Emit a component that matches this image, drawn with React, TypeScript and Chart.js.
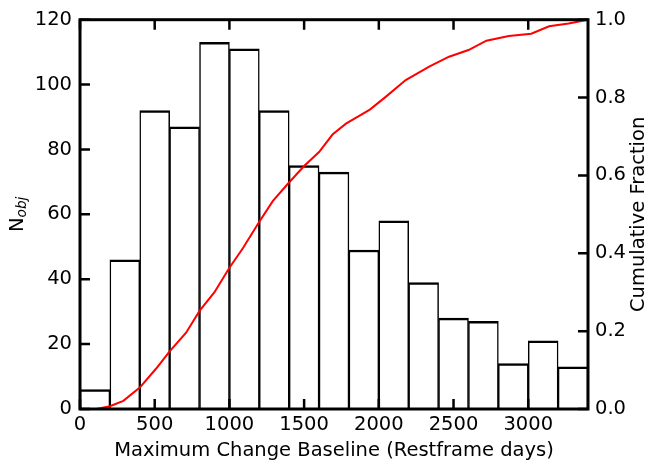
import React, { useEffect, useRef } from 'react';
import { Chart, registerables } from 'chart.js';

Chart.register(...registerables);

// Histogram of maximum change baselines, 200-day bins
const binCenters = [100, 300, 500, 700, 900, 1100, 1300, 1500, 1700, 1900, 2100, 2300, 2500, 2700, 2900, 3100, 3300];
const counts = [6, 46, 92, 87, 113, 111, 92, 75, 73, 49, 58, 39, 28, 27, 14, 21, 13];

// Cumulative fraction of objects versus baseline
const cumDays = [110, 200, 290, 400, 510, 600, 710, 800, 900, 1000, 1090, 1200, 1290, 1390, 1500, 1600, 1690, 1780, 1940, 2050, 2180, 2340, 2470, 2600, 2720, 2870, 3020, 3140, 3270, 3400];
const cumFraction = [0, 0.007, 0.021, 0.055, 0.104, 0.148, 0.196, 0.252, 0.3, 0.363, 0.413, 0.481, 0.534, 0.578, 0.624, 0.66, 0.705, 0.733, 0.769, 0.803, 0.845, 0.88, 0.905, 0.922, 0.946, 0.958, 0.964, 0.983, 0.99, 1.0];

// Axis tick labels
const dayLabels = [0, 500, 1000, 1500, 2000, 2500, 3000];
const countLabels = [0, 20, 40, 60, 80, 100, 120];
const fractionLabels = [0, 0.2, 0.4, 0.6, 0.8, 1.0];

const FONT = 'DejaVu Sans';
const FS = 19.5;

// Frame, inward tick marks and the two vertical axis titles
const framePlugin = {
  id: 'frame',
  afterDatasetsDraw(chart: any) {
    const { ctx, chartArea: a, scales } = chart;
    const L = 10;
    ctx.save();
    ctx.strokeStyle = '#000';
    ctx.lineWidth = 2.5;
    ctx.beginPath();
    for (const v of dayLabels) {
      const px = scales.x.getPixelForValue(v);
      ctx.moveTo(px, a.bottom);
      ctx.lineTo(px, a.bottom - L);
      ctx.moveTo(px, a.top);
      ctx.lineTo(px, a.top + L);
    }
    for (const v of countLabels) {
      const py = scales.y.getPixelForValue(v);
      ctx.moveTo(a.left, py);
      ctx.lineTo(a.left + L, py);
    }
    for (const v of fractionLabels) {
      const py = scales.y1.getPixelForValue(v);
      ctx.moveTo(a.right, py);
      ctx.lineTo(a.right - L, py);
    }
    ctx.stroke();
    ctx.lineWidth = 3;
    ctx.strokeRect(a.left, a.top, a.right - a.left, a.bottom - a.top);
    ctx.restore();
  },
  afterDraw(chart: any) {
    const { ctx, chartArea: a } = chart;
    const cy = (a.top + a.bottom) / 2;
    ctx.save();
    ctx.fillStyle = '#000';
    ctx.textBaseline = 'alphabetic';

    // Left title: N with italic subscript "obj"
    ctx.save();
    ctx.translate(22.7, cy);
    ctx.rotate(-Math.PI / 2);
    ctx.font = `${FS}px "${FONT}"`;
    const nW = ctx.measureText('N').width;
    ctx.font = `italic ${FS * 0.7}px "${FONT}"`;
    const subW = ctx.measureText('obj').width;
    const total = nW + subW;
    ctx.font = `${FS}px "${FONT}"`;
    ctx.textAlign = 'left';
    ctx.fillText('N', -total / 2, 0);
    ctx.font = `italic ${FS * 0.7}px "${FONT}"`;
    ctx.fillText('obj', -total / 2 + nW, 3);
    ctx.restore();

    // Right title
    ctx.save();
    ctx.translate(644, cy);
    ctx.rotate(-Math.PI / 2);
    ctx.font = `${FS}px "${FONT}"`;
    ctx.textAlign = 'center';
    ctx.fillText('Cumulative Fraction', 0, 0);
    ctx.restore();

    ctx.restore();
  },
};

const fixedTicks = (values: number[]) => (s: any) => {
  s.ticks = values.map((v) => ({ value: v }));
};

export default function App() {
  const canvasRef = useRef<HTMLCanvasElement | null>(null);

  useEffect(() => {
    if (!canvasRef.current) return;
    const tickFont = { family: FONT, size: FS };
    const chart = new Chart(canvasRef.current, {
      type: 'bar',
      data: {
        datasets: [
          {
            type: 'line',
            data: cumDays.map((d, i) => ({ x: d, y: cumFraction[i] })),
            yAxisID: 'y1',
            borderColor: '#ff0000',
            borderWidth: 2,
            pointRadius: 0,
            fill: false,
            tension: 0,
            order: 0,
          },
          {
            type: 'bar',
            data: binCenters.map((c, i) => ({ x: c, y: counts[i] })),
            yAxisID: 'y',
            backgroundColor: '#ffffff',
            borderColor: '#000000',
            borderWidth: { top: 2.5, left: 1.5, right: 1.5, bottom: 0 },
            borderSkipped: false,
            barPercentage: 1,
            categoryPercentage: 1,
            grouped: false,
            order: 1,
          },
        ] as any,
      },
      options: {
        responsive: false,
        animation: false,
        layout: { padding: { top: 16, left: 0, right: 0, bottom: 0 } },
        plugins: { legend: { display: false }, tooltip: { enabled: false } },
        scales: {
          x: {
            type: 'linear',
            min: 0,
            max: 3400,
            offset: false,
            grid: { display: false, drawTicks: false },
            border: { display: false },
            afterBuildTicks: fixedTicks(dayLabels),
            ticks: { autoSkip: false, font: tickFont, color: '#000', padding: 4, maxRotation: 0, callback: (v: any) => String(v) },
            title: {
              display: true,
              text: 'Maximum Change Baseline (Restframe days)',
              font: { family: FONT, size: FS },
              color: '#000',
              padding: { top: 0, bottom: 3 },
            },
            afterFit(s: any) {
              s.height = 57;
            },
          },
          y: {
            position: 'left',
            min: 0,
            max: 120,
            grid: { display: false, drawTicks: false },
            border: { display: false },
            afterBuildTicks: fixedTicks(countLabels),
            ticks: { autoSkip: false, font: tickFont, color: '#000', padding: 8, callback: (v: any) => String(v) },
            afterFit(s: any) {
              s.width = 80;
            },
          },
          y1: {
            position: 'right',
            min: 0,
            max: 1,
            grid: { display: false, drawTicks: false },
            border: { display: false },
            afterBuildTicks: fixedTicks(fractionLabels),
            ticks: {
              autoSkip: false,
              font: tickFont,
              color: '#000',
              padding: 7,
              callback: (v: any) => Number(v).toFixed(1),
            },
            afterFit(s: any) {
              s.width = 59;
            },
          },
        },
      } as any,
      plugins: [framePlugin],
    });
    return () => chart.destroy();
  }, []);

  return (
    <div style={{ position: 'absolute', left: 0, top: 0, width: 647, height: 466, background: '#fff' }}>
      <canvas ref={canvasRef} width={647} height={466} style={{ display: 'block' }} />
    </div>
  );
}
